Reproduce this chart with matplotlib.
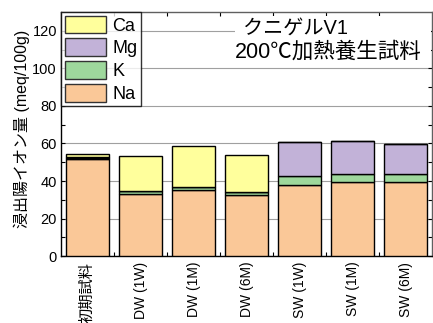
import matplotlib
matplotlib.use("Agg")
import matplotlib.pyplot as plt
from matplotlib.patches import Patch, Rectangle
import numpy as np

plt.rcParams['font.family'] = ['Liberation Sans', 'Noto Sans CJK JP', 'DejaVu Sans']

categories = ['初期試料', 'DW (1W)', 'DW (1M)', 'DW (6M)', 'SW (1W)', 'SW (1M)', 'SW (6M)']
na = [51.8, 33.2, 35.4, 32.4, 38.0, 39.6, 39.3]
k = [0.5, 1.4, 1.6, 1.7, 4.8, 4.3, 4.6]
mg = [0.3, 0.0, 0.0, 0.0, 17.8, 17.3, 15.7]
ca = [2.0, 18.6, 21.5, 19.9, 0.0, 0.0, 0.0]
series_names = ['Na', 'K', 'Mg', 'Ca']
colors = {'Na': '#FAC898', 'K': '#9ED89C', 'Mg': '#C2B2D8', 'Ca': '#FFFF9C'}

fig = plt.figure(figsize=(4.33, 3.23), dpi=100)
ax = fig.add_axes([0.141, 0.207, 0.857, 0.756])

x = np.arange(len(categories))
bottom = np.zeros(len(categories))
for name, vals in zip(series_names, [na, k, mg, ca]):
    vals = np.array(vals)
    ax.bar(x, vals, 0.8, bottom=bottom, color=colors[name], edgecolor='black',
           linewidth=1.0, zorder=3)
    bottom += vals

ax.set_xlim(-0.5, len(categories) - 0.5)
ax.set_ylim(0, 130)
ax.set_yticks(np.arange(0, 121, 20))
ax.set_yticks(np.arange(10, 130, 20), minor=True)
ax.yaxis.grid(True, which='major', color='#a0a0a0', linewidth=0.8, zorder=0)
ax.tick_params(axis='y', which='major', labelsize=10.5, direction='in', length=3,
               right=True, width=0.8, pad=3)
ax.tick_params(axis='y', which='minor', direction='in', length=3, right=True, width=0.8)

ax.set_xticks(x)
ax.set_xticklabels(categories, rotation=90, fontsize=10)
ax.get_xticklabels()[0].set_fontsize(11)
ax.set_xticks(np.arange(0.5, len(categories) - 1, 1), minor=True)
ax.tick_params(axis='x', which='major', length=0, pad=4)
ax.tick_params(axis='x', which='minor', direction='in', length=3, top=True, width=0.8)

for s in ax.spines.values():
    s.set_color('black')
    s.set_linewidth(1.0)
ax.spines['top'].set_color('#606060')
ax.spines['right'].set_color('#606060')

ax.set_ylabel('浸出陽イオン量 (meq/100g)', fontsize=11.5)
ax.yaxis.set_label_coords(-0.085, 0.52)

handles = [Patch(facecolor=colors[n], edgecolor='#333333', linewidth=1.0) for n in reversed(series_names)]
leg = ax.legend(handles, list(reversed(series_names)), loc='upper left', fontsize=13,
                handlelength=2.3, handleheight=1.15, handletextpad=0.35, labelspacing=0.2,
                borderaxespad=0, borderpad=0.2, frameon=True, fancybox=False)
leg.get_frame().set_edgecolor('black')
leg.get_frame().set_linewidth(1.0)
leg.set_zorder(5)

fig.patches.append(Rectangle((235 / 433, 1 - 64 / 323), 196 / 433, 48 / 323,
                             transform=fig.transFigure, facecolor='white',
                             edgecolor='none', zorder=4))
fig.text(243 / 433, 1 - 28 / 323, 'クニゲルV1', fontsize=14.5, va='center', ha='left', zorder=6)
fig.text(235 / 433, 1 - 52 / 323, '200℃加熱養生試料', fontsize=15.5, va='center', ha='left', zorder=6)

fig.savefig('out.png', dpi=100)
